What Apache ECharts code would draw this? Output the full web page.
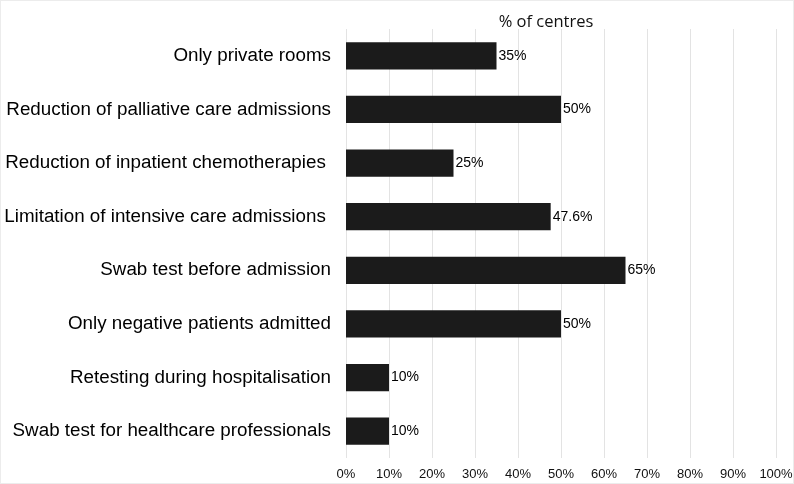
<!DOCTYPE html>
<html>
<head>
<meta charset="utf-8">
<script src="https://cdn.jsdelivr.net/npm/echarts@6/dist/echarts.min.js"></script>
<style>
  html, body { margin: 0; padding: 0; background: #fff; }
  #chart { width: 792px; height: 482px; border: 1px solid #ececec; }
</style>
</head>
<body>
<div id="chart"></div>
<script>
// categories top to bottom
const categories = [
  "Only private rooms",
  "Reduction of palliative care admissions",
  "Reduction of inpatient chemotherapies ",
  "Limitation of intensive care admissions ",
  "Swab test before admission",
  "Only negative patients admitted",
  "Retesting during hospitalisation",
  "Swab test for healthcare professionals"
];
const percentCentres = [35, 50, 25, 47.6, 65, 50, 10, 10];
const xTicks = [0, 10, 20, 30, 40, 50, 60, 70, 80, 90, 100];

const chart = echarts.init(document.getElementById("chart"));

chart.setOption({
  animation: false,
  title: {
    text: "% of centres",
    left: 540,
    top: 8,
    textAlign: "center",
    textStyle: {
      fontFamily: "Open Sans",
      fontSize: 16.5,
      fontWeight: "normal",
      color: "#111"
    }
  },
  grid: {
    left: 345,
    right: 17,
    top: 28,
    bottom: 25,
    containLabel: false,
    outerBoundsMode: "none"
  },
  xAxis: {
    type: "value",
    min: xTicks[0],
    max: xTicks[xTicks.length - 1],
    interval: 10,
    axisLine: { show: false },
    axisTick: { show: false },
    splitLine: { show: true, lineStyle: { color: "#e3e3e3", width: 1 } },
    axisLabel: {
      formatter: "{value}%",
      fontFamily: "Liberation Sans",
      fontSize: 13,
      color: "#111",
      margin: 10
    }
  },
  yAxis: {
    type: "category",
    inverse: true,
    data: categories,
    axisLine: { show: false },
    axisTick: { show: false },
    axisLabel: {
      fontFamily: "Liberation Sans",
      fontSize: 18.8,
      color: "#000",
      margin: 15
    }
  },
  series: [
    {
      type: "bar",
      data: percentCentres,
      barWidth: "51%",
      itemStyle: { color: "#1b1b1b" },
      label: {
        show: true,
        position: "right",
        distance: 2,
        formatter: "{c}%",
        fontFamily: "Liberation Sans",
        fontSize: 14,
        color: "#000"
      }
    }
  ]
});
</script>
</body>
</html>
